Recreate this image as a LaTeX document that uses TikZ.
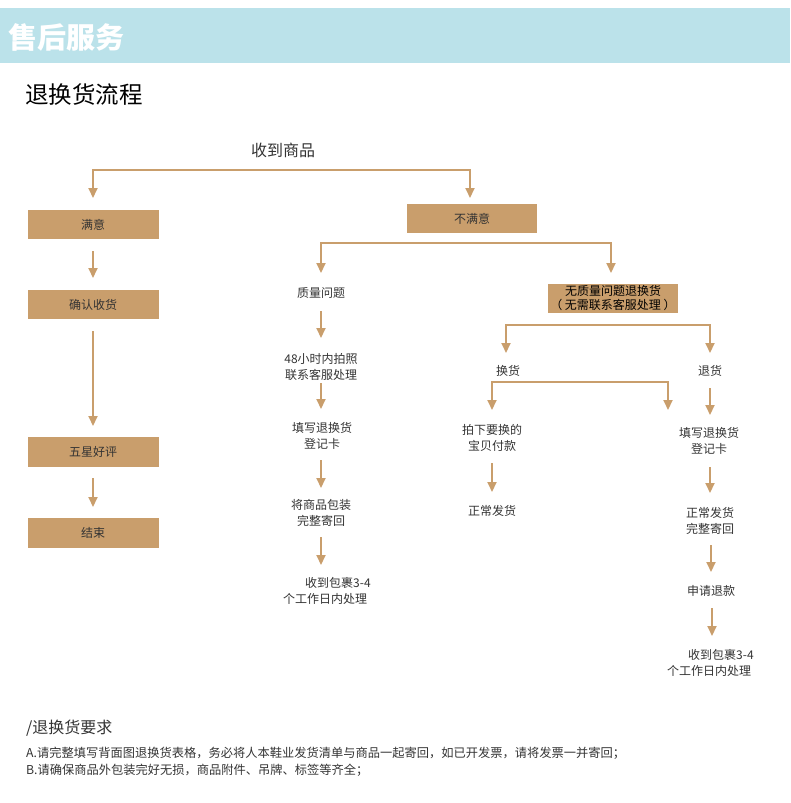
\documentclass[tikz,border=0pt]{standalone}
\usepackage{fontspec}
\setmainfont{Noto Sans CJK SC}
\usetikzlibrary{arrows.meta}
\definecolor{boxtan}{HTML}{C99E6C}
\definecolor{bandblue}{HTML}{BBE2EA}
\definecolor{txtgray}{HTML}{333333}
\tikzset{
  tip/.tip={Triangle[width=9pt,length=10pt]},
  flow/.style={draw=boxtan, line width=2pt, -tip},
  flowtwo/.style={draw=boxtan, line width=2pt, tip-tip},
  tbox/.style={fill=boxtan, minimum width=131pt, minimum height=29.5pt, inner sep=0pt, text=txtgray, font=\fontsize{12}{14}\selectfont},
  lbl/.style={text=txtgray, align=center, font=\fontsize{12}{16}\selectfont, inner sep=0pt},
}
\begin{document}
\begin{tikzpicture}[x=1pt,y=-1pt]
\useasboundingbox (0,0) rectangle (790,803);
% header
\fill[bandblue] (0,8) rectangle (790,63);
\node[anchor=west, inner sep=0pt, text=white, font=\fontsize{29}{30}\selectfont\bfseries] (hdr) at (8,37) {售后服务};
\node[anchor=west, inner sep=0pt, text=black, font=\fontsize{23.5}{26}\selectfont] (ttl) at (25,95) {退换货流程};
% top
\node[lbl, font=\fontsize{16}{18}\selectfont] (recv) at (283,150) {收到商品};
% left column boxes
\node[tbox] (sat) at (93,224.5) {满意};
\node[tbox] (conf) at (93,304.5) {确认收货};
\node[tbox] (five) at (93,452) {五星好评};
\node[tbox] (fin) at (93,533) {结束};
\node[tbox, minimum width=130pt] (unsat) at (472,218.5) {不满意};
% middle column
\node[lbl] (qual) at (321,293) {质量问题};
\node[lbl] (q48) at (321,367) {48小时内拍照\\联系客服处理};
\node[lbl] (qfill) at (322,436) {填写退换货\\登记卡};
\node[lbl] (qpack) at (321,513) {将商品包装\\完整寄回};
\node[lbl, align=left, anchor=west] (qrecv) at (283,591) {\hspace*{22pt}收到包裹3-4\\个工作日内处理};
% right
\node[tbox, minimum width=130pt, minimum height=29pt, text=black, font=\fontsize{12}{14}\selectfont, align=center] (noq) at (613,298.5) {无质量问题退换货\\（ 无需联系客服处理 ）};
\node[lbl] (exch) at (508,371) {换货};
\node[lbl] (ret) at (710,371) {退货};
\node[lbl] (pay) at (492,438) {拍下要换的\\宝贝付款};
\node[lbl] (ship) at (492,511) {正常发货};
\node[lbl] (tfill) at (709,441) {填写退换货\\登记卡};
\node[lbl] (tship) at (710,521) {正常发货\\完整寄回};
\node[lbl] (refund) at (711,591) {申请退款};
\node[lbl, align=left, anchor=west] (trecv) at (667,663) {\hspace*{21pt}收到包裹3-4\\个工作日内处理};
% bottom
\node[anchor=west, inner sep=0pt, text=txtgray, font=\fontsize{16}{18}\selectfont] (req) at (26,728) {/退换货要求};
\node[anchor=west, inner sep=0pt, text=txtgray, font=\fontsize{12.25}{14}\selectfont] (reqa) at (26,753) {A.请完整填写背面图退换货表格，务必将人本鞋业发货清单与商品一起寄回，如已开发票，请将发票一并寄回；};
\node[anchor=west, inner sep=0pt, text=txtgray, font=\fontsize{12.25}{14}\selectfont] (reqb) at (26,770) {B.请确保商品外包装完好无损，商品附件、吊牌、标签等齐全；};
% connector coordinates
\coordinate (t1l) at (93,198); \coordinate (c1l) at (93,170); \coordinate (c1r) at (470,170); \coordinate (t1r) at (470,198);
\coordinate (a2s) at (93,251); \coordinate (a2e) at (93,278);
\coordinate (a3s) at (93,331); \coordinate (a3e) at (93,426);
\coordinate (a4s) at (93,478); \coordinate (a4e) at (93,507);
\coordinate (t5l) at (321,273); \coordinate (c5l) at (321,243); \coordinate (c5r) at (611,243); \coordinate (t5r) at (611,273);
\coordinate (a6s) at (321,311); \coordinate (a6e) at (321,338);
\coordinate (a7s) at (321,383); \coordinate (a7e) at (321,409);
\coordinate (a8s) at (321,460); \coordinate (a8e) at (321,488);
\coordinate (a9s) at (321,537); \coordinate (a9e) at (321,565);
\coordinate (t10l) at (506,353); \coordinate (c10l) at (506,325); \coordinate (c10r) at (710,325); \coordinate (t10r) at (710,353);
\coordinate (t11l) at (492,410); \coordinate (c11l) at (492,382); \coordinate (c11r) at (668,382); \coordinate (t11r) at (668,410);
\coordinate (a12s) at (492,463); \coordinate (a12e) at (492,492);
\coordinate (a13s) at (710,388); \coordinate (a13e) at (710,415);
\coordinate (a14s) at (710,467); \coordinate (a14e) at (710,493);
\coordinate (a15s) at (711,545); \coordinate (a15e) at (711,572);
\coordinate (a16s) at (712,608); \coordinate (a16e) at (712,636);
% connectors
\draw[flowtwo] (t1l) -- (c1l) -- (c1r) -- (t1r);
\draw[flow] (a2s) -- (a2e);
\draw[flow] (a3s) -- (a3e);
\draw[flow] (a4s) -- (a4e);
\draw[flowtwo] (t5l) -- (c5l) -- (c5r) -- (t5r);
\draw[flow] (a6s) -- (a6e);
\draw[flow] (a7s) -- (a7e);
\draw[flow] (a8s) -- (a8e);
\draw[flow] (a9s) -- (a9e);
\draw[flowtwo] (t10l) -- (c10l) -- (c10r) -- (t10r);
\draw[flowtwo] (t11l) -- (c11l) -- (c11r) -- (t11r);
\draw[flow] (a12s) -- (a12e);
\draw[flow] (a13s) -- (a13e);
\draw[flow] (a14s) -- (a14e);
\draw[flow] (a15s) -- (a15e);
\draw[flow] (a16s) -- (a16e);
\end{tikzpicture}
\end{document}
